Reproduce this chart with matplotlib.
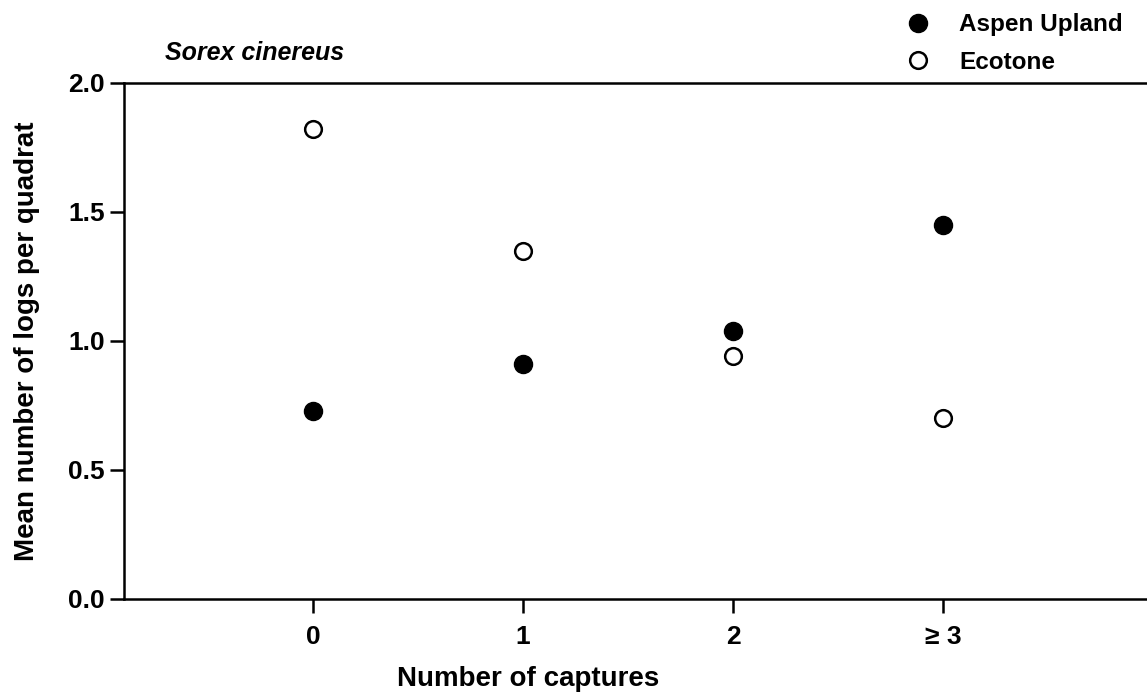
import numpy as np
import matplotlib.pyplot as plt

plt.rcParams['font.family'] = ['Liberation Sans', 'DejaVu Sans']
plt.rcParams['font.weight'] = 'bold'
plt.rcParams['axes.labelweight'] = 'bold'

categories = ['0', '1', '2', '\u2265 3']
aspen_upland = [0.73, 0.91, 1.04, 1.45]
ecotone = [1.82, 1.35, 0.94, 0.70]

x = np.arange(len(categories))

fig = plt.figure(figsize=(11.47, 6.95), dpi=100)
ax = fig.add_axes([124/1147, 1 - 599/695, 1 - 124/1147, (599 - 83)/695])

ax.plot(x, aspen_upland, 'o', color='black', markersize=13, label='Aspen Upland')
ax.plot(x, ecotone, 'o', markerfacecolor='white', markeredgecolor='black',
        markeredgewidth=1.8, markersize=12, label='Ecotone')

ax.set_xlim(-0.9, 3.97)
ax.set_ylim(0, 2.0)
ax.set_yticks([0, 0.5, 1.0, 1.5, 2.0])
ax.set_yticklabels(['0.0', '0.5', '1.0', '1.5', '2.0'])
ax.set_xticks(x)
ax.set_xticklabels(categories)
ax.tick_params(labelsize=19, width=1.8, length=10, direction='out')
ax.tick_params(axis='x', pad=9)
ax.tick_params(axis='y', pad=4)
ax.spines['right'].set_visible(False)
for s in ['left', 'bottom', 'top']:
    ax.spines[s].set_linewidth(1.8)

ax.set_ylabel('Mean number of logs per quadrat', fontsize=20)
ax.yaxis.set_label_coords(-0.082, 0.5)
ax.set_xlabel('Number of captures', fontsize=20)
ax.xaxis.set_label_coords((528 - 124) / (1147 - 124), -0.13)

ax.text(0.04, 1.035, 'Sorex cinereus', transform=ax.transAxes, fontsize=18,
        style='italic', va='bottom')

fig.legend(loc='upper left', bbox_to_anchor=(880/1147, 1.0), frameon=False,
           fontsize=17.5, handletextpad=0.7, borderaxespad=0.15, labelspacing=0.6)

plt.savefig('out.png', dpi=100)
